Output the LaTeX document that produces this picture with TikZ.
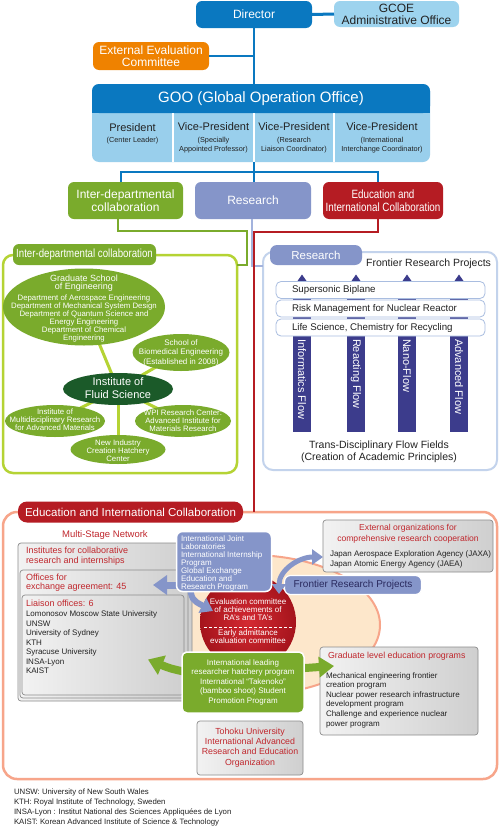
\documentclass[tikz,border=0pt]{standalone}
\usepackage{fontspec}
\setmainfont{Liberation Sans}
\newfontfamily\condfont[FakeStretch=0.82]{Liberation Sans}
\usetikzlibrary{arrows.meta,shapes.geometric,calc}
\pgfdeclarelayer{bg}
\pgfsetlayers{bg,main}
\definecolor{dirblue}{HTML}{0A78C0}
\definecolor{ltblue}{HTML}{9DD3EE}
\definecolor{gooLt}{HTML}{99CFEC}
\definecolor{orng}{HTML}{EF8200}
\definecolor{grn}{HTML}{7AAB2C}
\definecolor{lav}{HTML}{8595C9}
\definecolor{redd}{HTML}{B51C23}
\definecolor{ygrn}{HTML}{B5D334}
\definecolor{dkgrn}{HTML}{1B5A29}
\definecolor{resbord}{HTML}{C3D3EC}
\definecolor{resbar}{HTML}{A9BDE0}
\definecolor{resline}{HTML}{A3B3DD}
\definecolor{flowblue}{HTML}{3C3C8C}
\definecolor{salmon}{HTML}{F7A58A}
\definecolor{cream}{HTML}{FDE7CB}
\definecolor{redtxt}{HTML}{C0272D}
\definecolor{txtgray}{HTML}{222222}
\definecolor{navytxt}{HTML}{2A2A5E}
\definecolor{boxgray}{HTML}{8C8C8C}
\definecolor{gtop}{HTML}{F2F2F2}
\definecolor{gbot}{HTML}{CFCFCF}
\definecolor{rcin}{HTML}{D42A32}
\definecolor{rcout}{HTML}{A5141C}
\newcommand{\myfs}[2]{\fontsize{#1}{#2}\selectfont}
\begin{document}
\begin{tikzpicture}[x=1pt,y=-1pt,
  every node/.style={inner sep=0pt,outer sep=0pt},
  bline/.style={draw=dirblue, line width=2.5pt},
  topbox/.style={rounded corners=6pt, text=white, align=center},
  ell/.style={ellipse, fill=grn},
  wtxt/.style={text=white, align=center},
  ylink/.style={draw=ygrn, line width=3pt},
  flowcol/.style={fill=flowblue, minimum width=18pt, minimum height=150pt},
  pbar/.style={draw=resbar, fill=white, rounded corners=5pt, minimum width=209pt, minimum height=17pt, line width=0.8pt},
  bartxt/.style={anchor=west, text=txtgray, font=\myfs{9.7}{11}},
  gbox/.style={draw=boxgray, line width=0.7pt, rounded corners=3pt, left color=gtop, right color=gbot},
  redt/.style={text=redtxt},
  blk/.style={text=txtgray},
  fatlav/.style={draw=lav, line width=7pt, -{Triangle[width=19pt,length=14pt]}},
  fatgrn/.style={draw=grn, line width=8pt, -{Triangle[width=20pt,length=15pt]}}
]
\useasboundingbox (0,0) rectangle (500,827);
\begin{pgfonlayer}{bg}
\fill[white] (0,0) rectangle (500,827);
\end{pgfonlayer}

% ---------- top organisation ----------
\node[topbox, fill=dirblue, minimum width=116pt, minimum height=27pt, font=\myfs{12}{14}] (dir) at (254,14.5) {Director};
\node[topbox, fill=ltblue, text=txtgray, minimum width=125pt, minimum height=26pt, font=\myfs{12}{12}] (gcoe) at (396.5,14) {GCOE\\Administrative Office};
\draw[bline, line width=3pt] (dir.east) -- (gcoe.west);
\node[topbox, fill=orng, minimum width=116pt, minimum height=28pt, font=\myfs{12}{12}] (ext) at (151,56) {External Evaluation\\Committee};

\node[fill=gooLt, rounded corners=7pt, minimum width=338pt, minimum height=78pt] (goo) at (261,123) {};
\fill[dirblue, rounded corners=7pt] (92,84) rectangle (430,113);
\fill[dirblue] (92,100) rectangle (430,113);
\node[text=white, font=\myfs{15}{16}] (goot) at (261,98.5) {GOO (Global Operation Office)};
\draw[white, line width=1.2pt] (173,113) -- (173,162) (254,113) -- (254,162) (334,113) -- (334,162);
\node[blk, font=\myfs{11}{12}] (p1) at (132.5,128) {President};
\node[blk, font=\myfs{7.3}{9}] (p1s) at (132.5,141) {(Center Leader)};
\node[blk, font=\myfs{11}{12}] (p2) at (213.5,126.5) {Vice-President};
\node[blk, font=\myfs{7.3}{9}, align=center] (p2s) at (213.5,145.5) {(Specially\\Appointed Professor)};
\node[blk, font=\myfs{11}{12}] (p3) at (294,126.5) {Vice-President};
\node[blk, font=\myfs{7.3}{9}, align=center] (p3s) at (294,145.5) {(Research\\Liaison Coordinator)};
\node[blk, font=\myfs{11}{12}] (p4) at (382,126.5) {Vice-President};
\node[blk, font=\myfs{7.3}{9}, align=center] (p4s) at (382,145.5) {(International\\Interchange Coordinator)};

\node[topbox, fill=grn, minimum width=115pt, minimum height=37pt, font=\myfs{12}{12.5}] (idb) at (125.5,200.5) {Inter-departmental\\collaboration};
\node[topbox, fill=lav, minimum width=116pt, minimum height=37pt, font=\myfs{12}{12.5}] (res) at (253,200.5) {Research};
\node[topbox, fill=redd, minimum width=120pt, minimum height=37pt, font=\condfont\myfs{12}{12.5}] (edb) at (383,200.5) {Education and\\International Collaboration};

\coordinate (bus) at (254,172);
\draw[bline] (dir.south) -- (dir.south |- goo.north);
\draw[bline] (ext.east) -- (ext.east -| dir.south);
\draw[bline] (bus |- goo.south) -- (bus |- res.north);
\draw[bline] ([xshift=-4.5pt]idb.north) |- (bus) -| ([xshift=-5pt]edb.north);

% ---------- inter-departmental section ----------
\node[draw=ygrn, line width=2.5pt, rounded corners=10pt, minimum width=234pt, minimum height=218pt] (idc) at (120,364) {};
\node[fill=grn, rounded corners=6pt, minimum width=143pt, minimum height=21pt, text=white, font=\condfont\myfs{11.8}{12}] (idt) at (84.5,254.5) {Inter-departmental collaboration};

\node[ell, minimum width=162pt, minimum height=77pt] (grad) at (84,307) {};
\node[ell, minimum width=97pt, minimum height=37pt] (bio) at (181,352.5) {};
\node[ellipse, fill=dkgrn, minimum width=110pt, minimum height=32pt] (ifs) at (118,389) {};
\node[ell, minimum width=100pt, minimum height=32pt] (imr) at (55,421) {};
\node[ell, minimum width=96pt, minimum height=32pt] (wpi) at (183,421) {};
\node[ell, minimum width=95pt, minimum height=29pt] (nich) at (118,449.5) {};
\begin{pgfonlayer}{bg}
\draw[ylink] (ifs.center) -- (grad.center);
\draw[ylink] (ifs.center) -- (bio.center);
\draw[ylink] (ifs.center) -- (imr.center);
\draw[ylink] (ifs.center) -- (wpi.center);
\draw[ylink] (ifs.center) -- (nich.center);
\end{pgfonlayer}
\node[wtxt, font=\myfs{9}{8}] (gradt1) at (84,283.5) {Graduate School\\of Engineering};
\node[wtxt, font=\myfs{7.8}{8}] (gradt2) at (84,318) {Department of Aerospace Engineering\\Department of Mechanical System Design\\Department of Quantum Science and\\Energy Engineering\\Department of Chemical\\Engineering};
\node[wtxt, font=\myfs{8}{9.5}] (biot) at (181,352.5) {School of\\Biomedical Engineering\\(Established in 2008)};
\node[wtxt, font=\myfs{11}{13}] (ifst) at (118,388.5) {Institute of\\Fluid Science};
\node[wtxt, font=\myfs{7.8}{8}] (imrt) at (55,420) {Institute of\\Multidisciplinary Research\\for Advanced Materials};
\node[wtxt, font=\myfs{7.8}{8}] (wpit) at (183,421) {WPI Research Center:\\Advanced Institute for\\Materials Research};
\node[wtxt, font=\myfs{7.8}{8}] (nicht) at (118,451) {New Industry\\Creation Hatchery\\Center};

% ---------- research section ----------
\node[draw=resbord, line width=2pt, rounded corners=10pt, minimum width=234pt, minimum height=218pt] (rsc) at (380,361) {};
\node[fill=lav, rounded corners=7pt, minimum width=92pt, minimum height=20pt, text=white, font=\myfs{11.5}{12}] (rst) at (316,255) {Research};
\node[anchor=east, blk, font=\myfs{10.5}{12}] (frpt) at (491,264) {Frontier Research Projects};

\node[flowcol] (c1) at (302,357) {};
\node[flowcol] (c2) at (356,357) {};
\node[flowcol] (c3) at (407,357) {};
\node[flowcol] (c4) at (459,357) {};
\foreach \c in {c1,c2,c3,c4} {
  \fill[flowblue] ($(\c.north)+(-4.5,-1)$) -- ($(\c.north)+(0,-7.5)$) -- ($(\c.north)+(4.5,-1)$) -- cycle;
}
\node[pbar] (b1) at (380.5,290) {};
\node[pbar] (b2) at (380.5,308.5) {};
\node[pbar] (b3) at (380.5,327.5) {};
\node[bartxt] (b1t) at ([xshift=16pt]b1.west) {Supersonic Biplane};
\node[bartxt] (b2t) at ([xshift=16pt]b2.west) {Risk Management for Nuclear Reactor};
\node[bartxt] (b3t) at ([xshift=16pt]b3.west) {Life Science, Chemistry for Recycling};
\node[rotate=-90, anchor=west, text=white, font=\myfs{11}{12}] (c1t) at (302,339) {Informatics Flow};
\node[rotate=-90, anchor=west, text=white, font=\myfs{11}{12}] (c2t) at (356,339) {Reacting Flow};
\node[rotate=-90, anchor=west, text=white, font=\myfs{11}{12}] (c3t) at (407,339) {Nano-Flow};
\node[rotate=-90, anchor=west, text=white, font=\myfs{11}{12}] (c4t) at (459,339) {Advanced Flow};
\node[blk, align=center, font=\myfs{10.5}{12.5}] (tdf) at (379,452) {Trans-Disciplinary Flow Fields\\(Creation of Academic Principles)};

% ---------- connectors to sections ----------
\coordinate (gj) at (247,231);
\coordinate (rj) at (254,232);
\draw[draw=grn, line width=2.5pt] ([xshift=-7.5pt]idb.south) |- (gj) |- ([yshift=-10pt]idc.north east);
\draw[draw=resline, line width=2.5pt] ([xshift=-1pt]res.south) |- ([yshift=-14pt]rsc.north west);

% ---------- education section ----------
\node[draw=salmon, line width=2.5pt, rounded corners=14pt, minimum width=494pt, minimum height=267pt] (eic) at (250,645.5) {};
\draw[draw=redd, line width=2.5pt] ([xshift=-5pt]edb.south) |- (rj) -- (rj |- eic.north);
\node[fill=redd, rounded corners=9pt, minimum width=225pt, minimum height=21pt, text=white, font=\myfs{11.5}{12}] (eit) at (130.5,512) {Education and International Collaboration};
\node[redt, font=\myfs{9.5}{11}] (msn) at (105,535) {Multi-Stage Network};

\node[ellipse, fill=cream, draw=salmon, line width=2pt, minimum width=260pt, minimum height=140pt] (crm) at (250,625) {};

\node[gbox, minimum width=174pt, minimum height=158pt] (bxa) at (105,622) {};
\node[gbox, minimum width=168pt, minimum height=128pt] (bxb) at (104,634) {};
\node[gbox, minimum width=162pt, minimum height=100pt] (bxc) at (103,645) {};
\node[anchor=west, align=left, redt, font=\myfs{9}{10}] (bxat) at (26,556) {Institutes for collaborative\\research and internships};
\node[anchor=west, align=left, redt, font=\myfs{9}{9.5}] (bxbt) at (26,582.5) {Offices for\\exchange agreement: 45};
\node[anchor=west, align=left, redt, font=\myfs{9}{10}] (bxct) at (26,603) {Liaison offices: 6};
\node[anchor=west, align=left, blk, font=\myfs{8}{9.5}] (bxcl) at (26,642.5) {Lomonosov Moscow State University\\UNSW\\University of Sydney\\KTH\\Syracuse University\\INSA-Lyon\\KAIST};

\node[gbox, minimum width=170pt, minimum height=52pt] (exo) at (408,546) {};
\node[redt, align=center, font=\myfs{8.6}{10.5}] (exot1) at (408,534) {External organizations for\\comprehensive research cooperation};
\node[anchor=west, align=left, blk, font=\myfs{8}{9.5}] (exot2) at (330,559.5) {Japan Aerospace Exploration Agency (JAXA)\\Japan Atomic Energy Agency (JAEA)};

\node[gbox, minimum width=158pt, minimum height=88pt] (gle) at (399,691) {};
\node[anchor=west, redt, font=\myfs{8.8}{10}] (glet1) at (328,656) {Graduate level education programs};
\node[anchor=west, align=left, blk, font=\myfs{8}{9.6}] (glet2) at (326,700) {Mechanical engineering frontier\\creation program\\Nuclear power research infrastructure\\development program\\Challenge and experience nuclear\\power program};

\node[gbox, minimum width=106pt, minimum height=54pt] (tua) at (250,748) {};
\node[redt, align=center, font=\myfs{8.8}{10.3}] (tuat) at (250,747.5) {Tohoku University\\International Advanced\\Research and Education\\Organization};

\node[circle, minimum size=96pt, shading=radial, inner color=rcin, outer color=rcout] (rc) at (248,622) {};
\node[wtxt, font=\myfs{8}{8}] (rct1) at (248,609.5) {Evaluation committee\\of achievements of\\RA's and TA's};
\draw[white, line width=1pt, dash pattern=on 3pt off 2pt] ($(rc.west)+(4,5)$) -- ($(rc.east)+(-4,5)$);
\node[wtxt, font=\myfs{8}{8}] (rct2) at (248,637) {Early admittance\\evaluation committee};

\draw[fatlav] ($(bxb.north east)+(4,15)$) -- ($(bxb.north east)+(-35,15)$);
\draw[draw=lav, line width=6pt, -{Triangle[width=16pt,length=12pt]}] ($(rc.center)+(-59,-39)$) .. controls ($(rc.center)+(-56,-22)$) .. ($(rc.center)+(-35,-11)$);

\node[fill=lav, draw=white, line width=1.2pt, rounded corners=6pt, minimum width=137pt, minimum height=19pt, text=navytxt, font=\myfs{10}{12}] (frp) at (353,585) {Frontier Research Projects};
\draw[draw=lav, line width=5pt, {Triangle[width=14pt,length=10pt]}-{Triangle[width=15pt,length=11pt]}] ($(rc.center)+(31,-28)$) .. controls (279,570) and (299,557) .. ([yshift=-11pt]exo.west);

\node[fill=lav, draw=white, line width=1.5pt, rounded corners=6pt, minimum width=95pt, minimum height=60pt] (ljl) at (224,561.5) {};
\node[anchor=west, align=left, text=white, font=\myfs{8}{8}] (ljlt) at (181,563) {International Joint\\Laboratories\\International Internship\\Program\\Global Exchange\\Education and\\Research Program};

% green box and arrows
\coordinate (ilrW) at (182,682.5);
\coordinate (ilrE) at (304,682.5);
\draw[fatgrn] ($(ilrW)+(6,-10)$) .. controls ($(ilrW)+(-12,-14)$) .. ($(ilrW)+(-34,-23)$);
\draw[fatgrn] ($(ilrE)+(-6,-14)$) -- ($(gle.west)+(14,-25)$);
\node[fill=grn, draw=white, line width=1.5pt, rounded corners=5pt, minimum width=122pt, minimum height=61pt] (ilr) at (243,682.5) {};
\node[wtxt, font=\myfs{8}{9.5}] (ilrt) at (243,682) {International leading\\researcher hatchery program\\International ``Takenoko''\\(bamboo shoot) Student\\Promotion Program};

% footnotes
\node[anchor=west, align=left, blk, font=\myfs{7.8}{9.7}] (fn) at (14,807.5) {UNSW: University of New South Wales\\KTH: Royal Institute of Technology, Sweden\\INSA-Lyon : Institut National des Sciences Appliquées de Lyon\\KAIST: Korean Advanced Institute of Science \& Technology};
\end{tikzpicture}
\end{document}
